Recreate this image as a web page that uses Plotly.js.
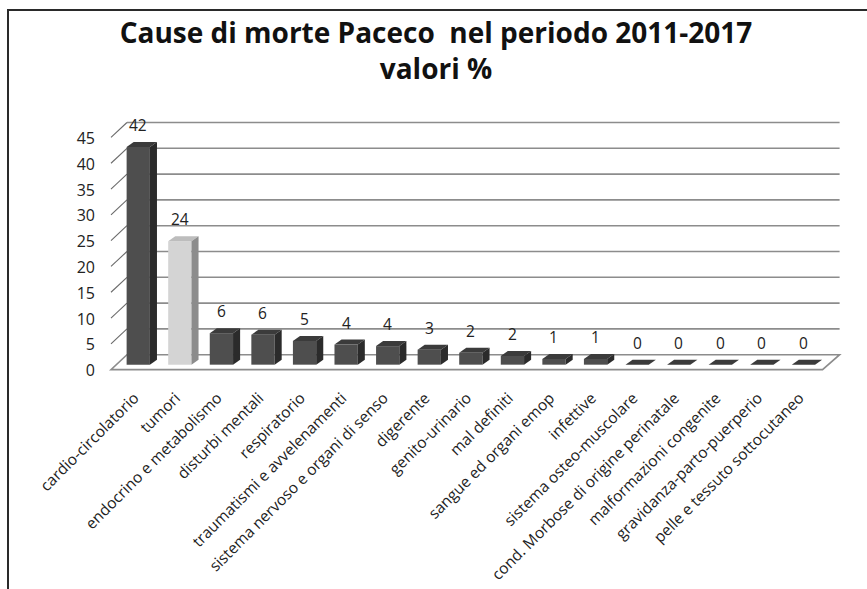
<!DOCTYPE html>
<html>
<head>
<meta charset="utf-8">
<script src="https://cdn.plot.ly/plotly-3.0.1.min.js"></script>
<style>
  html, body { margin: 0; padding: 0; background: #fff; }
  #wrap { position: relative; width: 867px; height: 589px; overflow: hidden; }
  #chart { position: absolute; left: 0; top: 0; width: 867px; height: 589px; }
  #frame { position: absolute; left: 7px; top: 9px; width: 900px; height: 700px;
           border-top: 2px solid #2a2a2a; border-left: 2px solid #2a2a2a; pointer-events: none; }
</style>
</head>
<body>
<div id="wrap"><div id="chart"></div><div id="frame"></div></div>
<script>
// ---- data ----
const categories = [
  "cardio-circolatorio", "tumori", "endocrino e metabolismo", "disturbi mentali",
  "respiratorio", "traumatismi e avvelenamenti", "sistema nervoso e organi di senso",
  "digerente", "genito-urinario", "mal definiti", "sangue ed organi emop", "infettive",
  "sistema osteo-muscolare", "cond. Morbose di origine perinatale",
  "malformazioni congenite", "gravidanza-parto-puerperio", "pelle e tessuto sottocutaneo"
];
const values = [42.2, 23.9, 6.1, 5.8, 4.6, 3.9, 3.6, 2.9, 2.3, 1.7, 1.1, 1.1, 0, 0, 0, 0, 0];
const yTicks = [0, 5, 10, 15, 20, 25, 30, 35, 40, 45];
const titleText = "Cause di morte Paceco \u00a0nel periodo 2011-2017<br>valori %";

// ---- style / 3D geometry (axis units) ----
const FONT = "'Open Sans', 'Noto Sans', sans-serif";
const highlightIndex = 1;
const darkFront = "#4e4e4e", darkTop = "#3b3b3b", darkSide = "#2b2b2b";
const lightFront = "#d4d4d4", lightTop = "#bdbdbd", lightSide = "#8c8c8c";
const barHalf = 0.28, barDx = 0.17, barDy = 0.97;
const frontDy = -0.967, backDy = 1.934;
const frontX0 = -0.656, backX0 = -0.272, frontX1 = 16.46, backX1 = 16.87;
const gridColor = "#8c8c8c";

const frontColors = values.map((v, i) => i === highlightIndex ? lightFront : darkFront);

const shapes = [];
// floor
shapes.push({
  type: "path", xref: "x", yref: "y", layer: "below",
  path: `M ${frontX0},${frontDy} L ${frontX1},${frontDy} L ${backX1},${backDy} L ${backX0},${backDy} Z`,
  fillcolor: "#ffffff", line: { color: gridColor, width: 1.6 }
});
// back wall gridlines + left diagonals
yTicks.forEach(t => {
  if (t > 0) {
    shapes.push({ type: "line", xref: "x", yref: "y", layer: "below",
      x0: backX0, x1: backX1, y0: t + backDy, y1: t + backDy,
      line: { color: gridColor, width: 1.6 } });
    shapes.push({ type: "line", xref: "x", yref: "y", layer: "below",
      x0: frontX0, x1: backX0, y0: t + frontDy, y1: t + backDy,
      line: { color: "#6a6a6a", width: 1.1 } });
  }
});
// bar top and side faces
values.forEach((v, i) => {
  const top = i === highlightIndex ? lightTop : darkTop;
  const side = i === highlightIndex ? lightSide : darkSide;
  shapes.push({ type: "path", xref: "x", yref: "y", layer: "above",
    path: `M ${i - barHalf},${v} L ${i + barHalf},${v} L ${i + barHalf + barDx},${v + barDy} L ${i - barHalf + barDx},${v + barDy} Z`,
    fillcolor: top, line: { width: 0 } });
  if (v > 0) {
    shapes.push({ type: "path", xref: "x", yref: "y", layer: "above",
      path: `M ${i + barHalf},0 L ${i + barHalf},${v} L ${i + barHalf + barDx},${v + barDy} L ${i + barHalf + barDx},${barDy} Z`,
      fillcolor: side, line: { width: 0 } });
  }
});

const annotations = values.map((v, i) => ({
  x: i, y: v, xref: "x", yref: "y", text: String(Math.round(v)),
  showarrow: false, yanchor: "bottom", yshift: 9,
  font: { family: FONT, size: 15.5, color: "#222" }
}));

const trace = {
  type: "bar", x: categories, y: values,
  marker: { color: frontColors, line: { width: 0 } },
  hoverinfo: "x+y", showlegend: false
};

const layout = {
  width: 867, height: 589,
  paper_bgcolor: "#ffffff", plot_bgcolor: "rgba(0,0,0,0)",
  margin: { l: 105, r: 21.5, t: 116.8, b: 213.7, pad: 0 },
  bargap: 0.44,
  title: {
    text: titleText, x: 436 / 867, xref: "container", xanchor: "center",
    y: 1 - 43 / 589, yref: "container", yanchor: "top",
    font: { family: FONT, size: 28, weight: "bold", color: "#111" }
  },
  xaxis: {
    type: "category", range: [-0.8, 17.0], showgrid: false, zeroline: false, showline: false,
    ticks: "", tickangle: -45, ticklabelstandoff: 10, ticklabelshift: -4,
    tickfont: { family: FONT, size: 15.5, color: "#222" },
    fixedrange: true
  },
  yaxis: {
    range: [-2, 48], tickvals: yTicks, showgrid: false, zeroline: false, showline: false,
    ticks: "", ticklabelshift: 6, ticklabelstandoff: 9,
    tickfont: { family: FONT, size: 16, color: "#222" },
    fixedrange: true
  },
  shapes: shapes,
  annotations: annotations
};

Plotly.newPlot("chart", [trace], layout, { displayModeBar: false, staticPlot: true });
</script>
</body>
</html>
